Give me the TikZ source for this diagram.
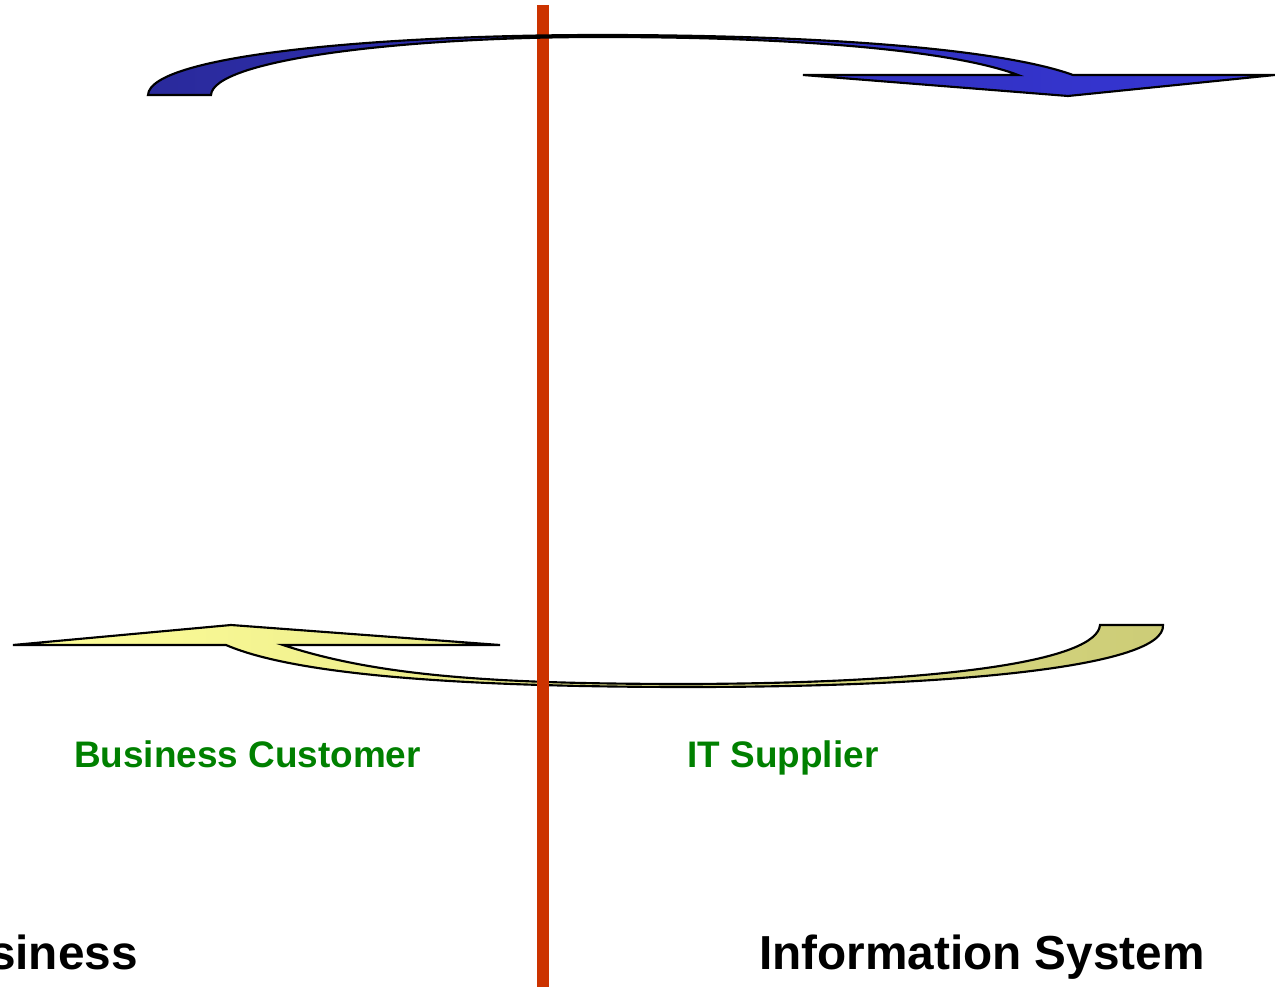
\documentclass[tikz,border=0pt]{standalone}
\usepackage{fontspec}
\setmainfont{Liberation Sans}
\begin{document}
\begin{tikzpicture}[x=0.75pt,y=-0.75pt,
  arrowline/.style={draw=black,line width=1.6,line join=miter},
  greenlabel/.style={inner sep=0,anchor=base,text=labelgreen,font=\bfseries\fontsize{27.7}{32}\selectfont},
  biglabel/.style={inner sep=0,text=black,font=\bfseries\fontsize{35.8}{40}\selectfont}]
\definecolor{labelgreen}{HTML}{008000}
\definecolor{divred}{HTML}{CC3300}
\definecolor{topdark}{HTML}{2A2A9C}
\definecolor{toplight}{HTML}{3636D6}
\definecolor{botlight}{HTML}{FFFF99}
\definecolor{botdark}{HTML}{CCCC77}
\useasboundingbox (0,0) rectangle (1275,987);
% bottom arrow (yellow)
\path[arrowline,left color=botlight,right color=botdark]
  (13,645) -- (231,625) -- (500,645) -- (283,645)
  .. controls (380,677) and (500,684) .. (690,684)
  .. controls (950,683) and (1097,660) .. (1100,625)
  -- (1163,625)
  .. controls (1166,667) and (950,687) .. (690,687)
  .. controls (480,687) and (300,677) .. (226,645)
  -- cycle;
% divider
\coordinate (dtop) at (542.5,5);
\coordinate (dbot) at (542.5,987);
\draw[divred,line width=9] (dtop) -- (dbot);
% top arrow (blue)
\path[arrowline,left color=topdark,right color=toplight]
  (148,95)
  .. controls (150,55) and (380,35) .. (600,35)
  .. controls (850,35) and (1010,52) .. (1073,75)
  -- (1275,75) -- (1068,96) -- (803,75) -- (1018,75)
  .. controls (960,53) and (820,37) .. (600,37)
  .. controls (400,37) and (213,60) .. (211,95)
  -- cycle;
% labels
\node[greenlabel] (bc) at (247.5,767) {Business Customer};
\node[greenlabel] (its) at (783,767) {IT Supplier};
\node[biglabel,anchor=base east] (bus) at (138,969) {Business};
\node[biglabel,anchor=base] (infs) at (982,969) {Information System};
\end{tikzpicture}
\end{document}
